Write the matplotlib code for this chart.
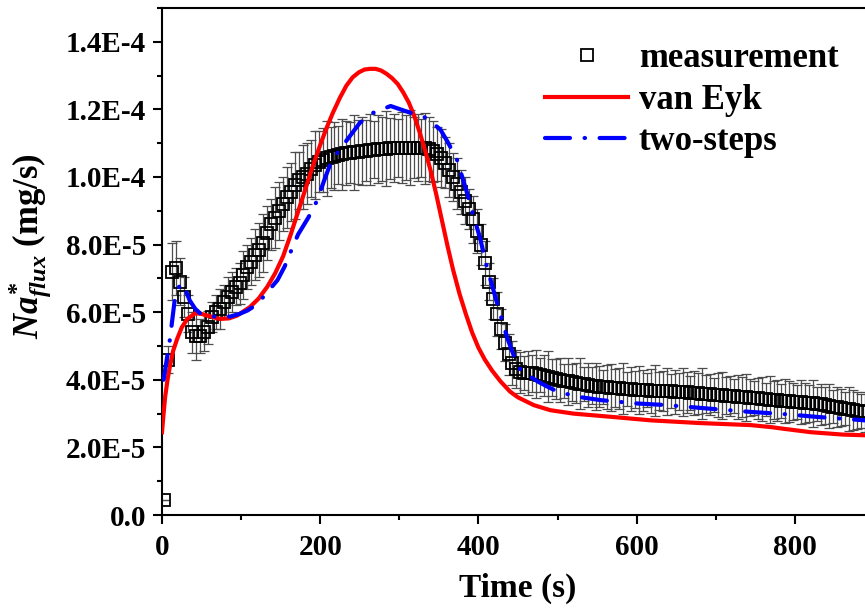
import numpy as np
import matplotlib
matplotlib.use('Agg')
import matplotlib.pyplot as plt
from matplotlib.ticker import MultipleLocator, FuncFormatter

plt.rcParams['font.family'] = 'Liberation Serif'
plt.rcParams['font.weight'] = 'bold'
plt.rcParams['mathtext.fontset'] = 'custom'
plt.rcParams['mathtext.rm'] = 'Liberation Serif:bold'
plt.rcParams['mathtext.it'] = 'Liberation Serif:italic:bold'
plt.rcParams['mathtext.bf'] = 'Liberation Serif:bold'

# measurement, sampled every 5 s (values in 1E-5 mg/s)
t_meas = np.arange(3, 889, 5)
meas = [0.45, 4.6, 7.2, 7.3, 6.9, 6.45, 5.95, 5.4, 5.3, 5.3,
        5.4, 5.55, 5.85, 6.0, 6.1, 6.3, 6.45, 6.6, 6.75, 6.85,
        7.1, 7.35, 7.5, 7.7, 7.85, 8.05, 8.35, 8.6, 8.8, 9.0,
        9.2, 9.4, 9.55, 9.75, 9.9, 10.0, 10.1, 10.25, 10.35, 10.45,
        10.5, 10.55, 10.58, 10.62, 10.65, 10.67, 10.7, 10.72, 10.73, 10.75,
        10.77, 10.78, 10.8, 10.81, 10.82, 10.83, 10.84, 10.85, 10.85, 10.86,
        10.86, 10.87, 10.87, 10.87, 10.87, 10.86, 10.85, 10.82, 10.76, 10.68,
        10.56, 10.42, 10.22, 10.0, 9.8, 9.55, 9.3, 9.05, 8.75, 8.4,
        8.0, 7.45, 6.9, 6.4, 5.95, 5.5, 5.1, 4.75, 4.5, 4.32,
        4.22, 4.2, 4.2, 4.19, 4.17, 4.15, 4.12, 4.09, 4.06, 4.03,
        4.0, 3.97, 3.95, 3.93, 3.91, 3.89, 3.87, 3.85, 3.83, 3.81,
        3.8, 3.79, 3.78, 3.77, 3.76, 3.75, 3.74, 3.73, 3.72, 3.71,
        3.7, 3.69, 3.69, 3.68, 3.68, 3.67, 3.67, 3.66, 3.66, 3.65,
        3.65, 3.64, 3.63, 3.62, 3.61, 3.6, 3.59, 3.58, 3.57, 3.56,
        3.55, 3.54, 3.53, 3.52, 3.51, 3.5, 3.49, 3.48, 3.47, 3.46,
        3.45, 3.44, 3.42, 3.41, 3.4, 3.39, 3.38, 3.37, 3.36, 3.35,
        3.34, 3.33, 3.32, 3.31, 3.3, 3.29, 3.27, 3.25, 3.23, 3.21,
        3.19, 3.17, 3.15, 3.13, 3.11, 3.09, 3.07, 3.05]
meas_err = [0.0, 0.4, 0.85, 0.8, 0.7, 0.6, 0.55, 0.6, 0.7, 0.5,
            0.55, 0.5, 0.45, 0.5, 0.6, 0.5, 0.6, 0.6, 0.55, 0.6,
            0.7, 0.65, 0.7, 0.75, 0.8, 0.85, 0.8, 0.75, 0.9, 0.85,
            0.8, 0.9, 0.85, 1.0, 0.85, 0.95, 0.9, 0.85, 1.0, 0.9,
            0.95, 1.1, 0.9, 1.0, 0.85, 1.05, 0.95, 0.9, 1.1, 0.95,
            1.0, 0.9, 1.05, 0.85, 1.0, 0.95, 1.1, 0.9, 1.0, 0.85,
            1.05, 0.95, 1.1, 0.9, 1.0, 0.85, 1.05, 0.95, 0.9, 0.8,
            0.85, 0.75, 0.8, 0.7, 0.75, 0.65, 0.7, 0.6, 0.7, 0.65,
            0.6, 0.65, 0.55, 0.6, 0.65, 0.6, 0.55, 0.6, 0.65, 0.55,
            0.6, 0.5, 0.65, 0.55, 0.7, 0.5, 0.6, 0.75, 0.55, 0.6,
            0.65, 0.5, 0.7, 0.55, 0.6, 0.75, 0.5, 0.65, 0.55, 0.7,
            0.6, 0.5, 0.65, 0.7, 0.55, 0.6, 0.75, 0.5, 0.65, 0.55,
            0.7, 0.6, 0.5, 0.65, 0.75, 0.55, 0.6, 0.7, 0.5, 0.65,
            0.55, 0.7, 0.6, 0.5, 0.65, 0.6, 0.75, 0.55, 0.6, 0.5,
            0.65, 0.7, 0.55, 0.6, 0.5, 0.65, 0.6, 0.7, 0.55, 0.5,
            0.6, 0.65, 0.5, 0.7, 0.55, 0.6, 0.5, 0.65, 0.6, 0.55,
            0.5, 0.65, 0.6, 0.55, 0.7, 0.5, 0.6, 0.55, 0.65, 0.5,
            0.6, 0.55, 0.5, 0.65, 0.6, 0.55, 0.5, 0.6]

# van Eyk model
t_vaneyk = [0, 2, 4, 7, 10, 14, 19, 25, 32, 42, 50, 57, 73, 85, 95, 111, 122,
            133, 143, 153, 162, 171, 180, 191, 200, 208, 216, 225, 233, 241,
            249, 256, 263, 270, 277, 284, 291, 298, 305, 312, 319, 326, 333,
            340, 347, 354, 361, 368, 376, 384, 392, 400, 408, 417, 428, 440,
            450, 470, 491, 520, 570, 618, 680, 744, 770, 786, 820, 860, 900]
vaneyk = [2.45, 3.0, 3.5, 4.0, 4.4, 4.85, 5.2, 5.55, 5.8, 5.97, 5.95, 5.9,
          5.8, 5.82, 5.9, 6.15, 6.4, 6.75, 7.15, 7.65, 8.25, 8.9, 9.55, 10.35,
          10.95, 11.45, 11.9, 12.35, 12.7, 12.95, 13.1, 13.18, 13.2, 13.2,
          13.15, 13.05, 12.92, 12.75, 12.5, 12.2, 11.8, 11.3, 10.75, 10.15,
          9.45, 8.7, 7.95, 7.25, 6.55, 5.95, 5.4, 4.95, 4.6, 4.28, 3.95, 3.65,
          3.48, 3.25, 3.1, 3.0, 2.9, 2.8, 2.72, 2.66, 2.6, 2.55, 2.45, 2.38,
          2.35]

# two-steps model
t_two = [2, 4, 10, 16, 23, 29, 35, 42, 48, 56, 65, 86, 98, 108, 118, 128, 137,
         146, 155, 162, 172, 185, 196, 205, 213, 224, 234, 250, 267, 289, 314,
         330, 342, 352, 362, 373, 386, 393, 402, 410, 419, 428, 437, 445, 453,
         465, 475, 487, 500, 525, 554, 600, 639, 690, 744, 790, 829, 860, 900]
two = [4.0, 4.3, 5.2, 6.35, 6.85, 6.7, 6.35, 6.1, 5.97, 5.9, 5.87, 5.87, 5.95,
       6.05, 6.2, 6.45, 6.7, 6.95, 7.35, 7.75, 8.3, 8.8, 9.3, 9.9, 10.4, 10.8,
       11.1, 11.6, 11.9, 12.1, 11.9, 11.8, 11.6, 11.4, 11.0, 10.5, 9.5, 8.9,
       8.2, 7.4, 6.65, 5.9, 5.2, 4.7, 4.3, 4.1, 3.95, 3.8, 3.65, 3.5, 3.4, 3.3,
       3.25, 3.15, 3.05, 2.98, 2.9, 2.85, 2.78]

scale = 1e-5


def sci_fmt(v, pos):
    if abs(v) < 1e-12:
        return '0.0'
    e = int(np.floor(np.log10(abs(v)) + 1e-9))
    return '%.1fE%d' % (v / 10.0**e, e)


fig = plt.figure(figsize=(8.65, 6.12), dpi=100)
ax = fig.add_axes([162/865, 97/612, 712/865, 507/612])

y = np.array(meas) * scale
yerr = np.array(meas_err) * scale
ax.errorbar(t_meas, y, yerr=yerr, fmt='none', ecolor='0.3', elinewidth=0.9,
            capsize=3.5, capthick=0.9, zorder=2)
h1, = ax.plot(t_meas, y, linestyle='none', marker='s', markersize=9,
              markerfacecolor='none', markeredgecolor='black',
              markeredgewidth=1.3, zorder=3, label='measurement')
h2, = ax.plot(t_vaneyk, np.array(vaneyk) * scale, color='#ff0000', lw=3,
              zorder=4, label='van Eyk', solid_joinstyle='round')
h3, = ax.plot(t_two, np.array(two) * scale, color='#0000ff', lw=3,
              linestyle=(0, (6, 3.5, 0.1, 3.5)), dash_capstyle='round',
              zorder=5, label='two-steps')

ax.set_xlim(0, 900)
ax.set_ylim(0, 1.5e-4)
ax.xaxis.set_major_locator(MultipleLocator(200))
ax.xaxis.set_minor_locator(MultipleLocator(100))
ax.yaxis.set_major_locator(MultipleLocator(2e-5))
ax.yaxis.set_minor_locator(MultipleLocator(1e-5))
ax.yaxis.set_major_formatter(FuncFormatter(sci_fmt))

for s in ['left', 'bottom', 'top']:
    ax.spines[s].set_linewidth(1.5)
ax.spines['right'].set_visible(False)
ax.tick_params(which='major', direction='out', length=6.5, width=1.5,
               labelsize=21, pad=5)
ax.tick_params(which='minor', direction='out', length=3.5, width=1.5)
ax.tick_params(axis='x', which='major', pad=7)

ax.set_xlabel('Time (s)', fontsize=24, fontweight='bold', labelpad=9)
ax.set_ylabel(r'$Na^{*}_{flux}$ (mg/s)', fontsize=25, fontweight='bold')
ax.yaxis.set_label_coords(-0.152, 0.53)

fig.legend(handles=[h1, h2, h3], loc='upper left',
           bbox_to_anchor=(545/865, 1 - 42/612), frameon=False,
           fontsize=25, handlelength=2.4, handletextpad=0.3,
           labelspacing=0.25, borderpad=0, borderaxespad=0)

fig.savefig('out.png', dpi=100)
